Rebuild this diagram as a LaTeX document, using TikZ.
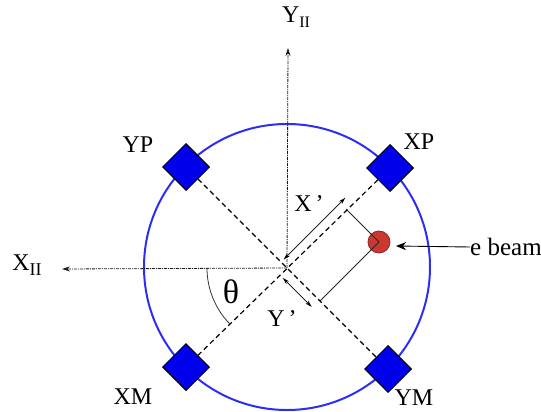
\documentclass[tikz,border=0pt]{standalone}
\usepackage{fontspec}
\setmainfont{Liberation Serif}
\usetikzlibrary{shapes.geometric,arrows.meta}
\definecolor{ringblue}{RGB}{45,45,245}
\definecolor{padblue}{RGB}{0,0,235}
\definecolor{beamred}{RGB}{205,55,50}
\definecolor{beamedge}{RGB}{140,40,40}
\tikzset{
  pad/.style={diamond,draw=black,line width=1pt,fill=padblue,minimum width=47pt,minimum height=47pt,inner sep=0pt},
  lbl/.style={font=\fontsize{24}{26}\selectfont,inner sep=0pt},
  axisline/.style={line width=0.8pt,black!90,dash pattern=on 3pt off 1pt on 1pt off 1pt,-{Stealth[length=8pt,width=5pt]}},
  diag/.style={line width=1.2pt,dash pattern=on 5pt off 3.5pt},
  proj/.style={line width=0.8pt,draw=black!85},
  darrow/.style={line width=0.8pt,{Stealth[length=7pt,width=4pt]}-{Stealth[length=7pt,width=4pt]}},
}
\begin{document}
\begin{tikzpicture}[x=1pt,y=-1pt]
\useasboundingbox (0,0) rectangle (541,412);
\coordinate (C) at (287,268);
% ring
\draw[ringblue,line width=2pt] (287,267) circle[radius=143];
% axes
\coordinate (Ytip) at (288,48);
\coordinate (Xtip) at (62,269);
\draw[axisline] (C) -- (Ytip);
\draw[axisline] (C) -- (Xtip);
\node[lbl] (YII) at (296,17) {Y\raisebox{-0.4ex}{\fontsize{16}{16}\selectfont II}};
\node[lbl] (XII) at (27,265) {X\raisebox{-0.5ex}{\fontsize{18}{18}\selectfont II}};
% pads
\node[pad] (YP) at (186,167) {};
\node[pad] (XP) at (390,168) {};
\node[pad] (XM) at (186,367) {};
\node[pad] (YM) at (388,369) {};
\draw[diag] (YP) -- (YM);
\draw[diag] (XP) -- (XM);
\node[lbl] (tYP) at (138,145) {YP};
\node[lbl] (tXP) at (419,142) {XP};
\node[lbl] (tXM) at (133,397) {XM};
\node[lbl] (tYM) at (414,398) {YM};
% angle
\draw[line width=0.8pt,black!80] (207,268) arc[start angle=180,end angle=135,radius=80];
\node[inner sep=0pt,font=\fontsize{34}{36}\selectfont] (th) at (231,292) {θ};
% beam
\node[circle,fill=beamred,draw=beamedge,line width=0.8pt,minimum size=22pt,inner sep=0pt] (B) at (379,242) {};
\coordinate (PX) at (346,209);
\coordinate (PY) at (320,301);
\draw[proj] (B.center) -- (PX);
\draw[proj] (B.center) -- (PY);
% X' and Y' arrows
\coordinate (xa) at (283.6,259.5);
\coordinate (xb) at (345.3,197.8);
\draw[darrow] (xa) -- (xb);
\coordinate (ya) at (282.8,277.9);
\coordinate (yb) at (311.7,306.9);
\draw[darrow] (ya) -- (yb);
\node[lbl] (tX) at (309,204) {X\,'};
\node[lbl] (tY) at (282,319) {Y\,'};
% e beam
\node[lbl,anchor=west,font=\fontsize{25}{27}\selectfont] (eb) at (470,247) {e beam};
\draw[line width=0.9pt,-{Stealth[length=10pt,width=8pt,inset=3pt]}] (eb.west) -- (396,246);
\end{tikzpicture}
\end{document}
